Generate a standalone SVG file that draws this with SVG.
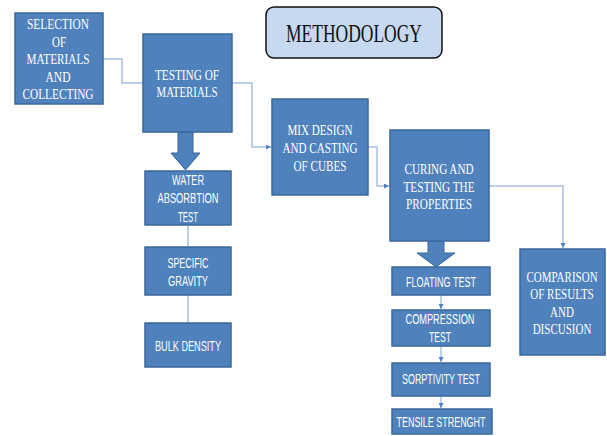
<svg xmlns="http://www.w3.org/2000/svg" width="607" height="436" viewBox="0 0 607 436">
<defs>
<marker id="ah" viewBox="0 0 6 6" refX="6" refY="3" markerWidth="5" markerHeight="5" orient="auto" markerUnits="userSpaceOnUse">
<path d="M0,0 L6,3 L0,6 z" fill="#4f81bd"/>
</marker>
</defs>
<style>
.box{fill:#4f81bd;stroke:#3a679c;stroke-width:1.5}
.con{fill:none;stroke:#a6c0e0;stroke-width:1.5}
.con2{fill:none;stroke:#7fa3d1;stroke-width:1}
.serif{font-family:"Liberation Serif","Times New Roman",serif;font-size:14.5px;fill:#fff;text-anchor:middle}
.sans{font-family:"Liberation Sans",Arial,sans-serif;font-size:14px;fill:#fff;text-anchor:middle}
.big{fill:#4f81bd;stroke:#3a679c;stroke-width:1}
</style>
<rect width="607" height="436" fill="#fff"/>
<g id="connectors">
<path class="con" d="M103,59 H122 V83 H143"/>
<path class="con" d="M232,83 H252 V147 H271" marker-end="url(#ah)"/>
<path class="con" d="M368,147 H377 V186 H389" marker-end="url(#ah)"/>
<path class="con" d="M489,186 H563 V248" marker-end="url(#ah)"/>
<path class="con" d="M188,225 V247 M188,295 V323"/>
<path class="con2" d="M441,295 V309" marker-end="url(#ah)"/>
<path class="con2" d="M441,346 V362" marker-end="url(#ah)"/>
<path class="con2" d="M441,396 V408" marker-end="url(#ah)"/>
<path class="big" d="M178,132 H193 V153 H200 L185.5,170 L171,153 H178 Z"/>
<path class="big" d="M428,241 H444 V253 H455 L436,267 L417,253 H428 Z"/>
</g>
<g id="methodology">
<rect x="266" y="7" width="176" height="51" rx="8" fill="#c6d9f1" stroke="#111" stroke-width="1.5"/>
<text x="354" y="42" font-family="'Liberation Serif','Times New Roman',serif" font-size="25" fill="#111" text-anchor="middle" textLength="136" lengthAdjust="spacingAndGlyphs">METHODOLOGY</text>
</g>
<g id="selection">
<rect class="box" x="15" y="13" width="88" height="91"/>
<text class="serif"><tspan x="58" y="29" textLength="62" lengthAdjust="spacingAndGlyphs">SELECTION</tspan><tspan x="59" y="47" textLength="14" lengthAdjust="spacingAndGlyphs">OF</tspan><tspan x="58" y="64" textLength="63" lengthAdjust="spacingAndGlyphs">MATERIALS</tspan><tspan x="58" y="82" textLength="25" lengthAdjust="spacingAndGlyphs">AND</tspan><tspan x="58" y="99" textLength="71" lengthAdjust="spacingAndGlyphs">COLLECTING</tspan></text>
</g>
<g id="testing">
<rect class="box" x="143" y="34" width="89" height="98"/>
<text class="serif"><tspan x="187" y="80" textLength="64" lengthAdjust="spacingAndGlyphs">TESTING OF</tspan><tspan x="187" y="97" textLength="61" lengthAdjust="spacingAndGlyphs">MATERIALS</tspan></text>
</g>
<g id="mix">
<rect class="box" x="272" y="99" width="96" height="96"/>
<text class="serif"><tspan x="320" y="135" textLength="65" lengthAdjust="spacingAndGlyphs">MIX DESIGN</tspan><tspan x="320" y="153" textLength="75" lengthAdjust="spacingAndGlyphs">AND CASTING</tspan><tspan x="320" y="171" textLength="53" lengthAdjust="spacingAndGlyphs">OF CUBES</tspan></text>
</g>
<g id="curing">
<rect class="box" x="390" y="130" width="99" height="111"/>
<text class="serif"><tspan x="439" y="174" textLength="69" lengthAdjust="spacingAndGlyphs">CURING AND</tspan><tspan x="439" y="192" textLength="71" lengthAdjust="spacingAndGlyphs">TESTING THE</tspan><tspan x="439" y="209" textLength="66" lengthAdjust="spacingAndGlyphs">PROPERTIES</tspan></text>
</g>
<g id="comparison">
<rect class="box" x="520" y="249" width="85" height="106"/>
<g transform="translate(562,0) scale(0.76,1)">
<text class="serif"><tspan x="0" y="282">COMPARISON</tspan><tspan x="0" y="299">OF RESULTS</tspan><tspan x="0" y="317">AND</tspan><tspan x="0" y="334">DISCUSION</tspan></text>
</g>
</g>
<g id="water">
<rect class="box" x="145" y="171" width="86" height="54"/>
<text class="sans"><tspan x="188" y="185" textLength="32" lengthAdjust="spacingAndGlyphs">WATER</tspan><tspan x="188" y="203" textLength="61" lengthAdjust="spacingAndGlyphs">ABSORBTION</tspan><tspan x="188" y="222" textLength="20" lengthAdjust="spacingAndGlyphs">TEST</tspan></text>
</g>
<g id="specific">
<rect class="box" x="145" y="247" width="86" height="48"/>
<text class="sans"><tspan x="188" y="268" textLength="41" lengthAdjust="spacingAndGlyphs">SPECIFIC</tspan><tspan x="188" y="286" textLength="40" lengthAdjust="spacingAndGlyphs">GRAVITY</tspan></text>
</g>
<g id="bulk">
<rect class="box" x="145" y="323" width="86" height="44"/>
<text class="sans" x="188" y="351" textLength="66" lengthAdjust="spacingAndGlyphs">BULK DENSITY</text>
</g>
<g id="floating">
<rect class="box" x="392" y="267" width="98" height="28"/>
<text class="sans" x="441" y="287" textLength="70" lengthAdjust="spacingAndGlyphs">FLOATING TEST</text>
</g>
<g id="compression">
<rect class="box" x="392" y="310" width="98" height="36"/>
<text class="sans"><tspan x="440" y="324" textLength="69" lengthAdjust="spacingAndGlyphs">COMPRESSION</tspan><tspan x="440" y="342" textLength="22" lengthAdjust="spacingAndGlyphs">TEST</tspan></text>
</g>
<g id="sorptivity">
<rect class="box" x="392" y="363" width="98" height="33"/>
<text class="sans" x="441" y="384" textLength="78" lengthAdjust="spacingAndGlyphs">SORPTIVITY TEST</text>
</g>
<g id="tensile">
<rect class="box" x="392" y="409" width="100" height="25"/>
<text class="sans" x="441" y="427" textLength="89" lengthAdjust="spacingAndGlyphs">TENSILE STRENGHT</text>
</g>
</svg>
